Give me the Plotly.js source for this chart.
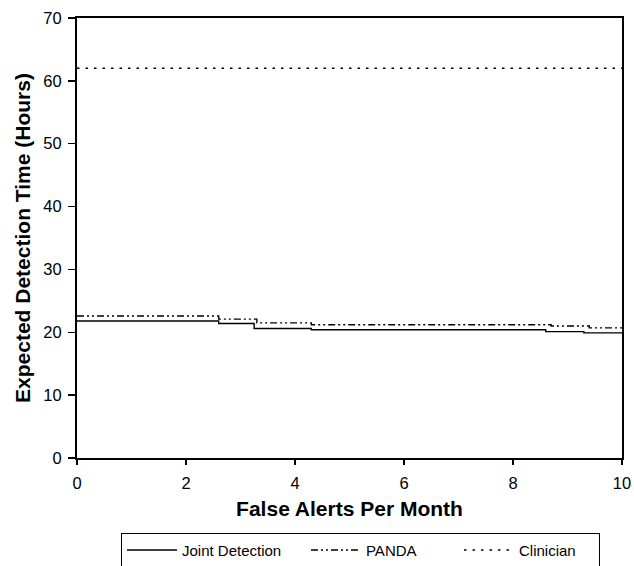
<!DOCTYPE html>
<html>
<head>
<meta charset="utf-8">
<script src="https://cdn.plot.ly/plotly-3.0.1.min.js"></script>
<style>html,body{margin:0;padding:0;background:#fff;}#chart{width:634px;height:566px;}</style>
</head>
<body>
<div id="chart"></div>
<script>
// Step-function series (x = false alerts per month, y = hours)
const seriesNames = ["Joint Detection", "PANDA", "Clinician"];
const jointX = [0, 2.6, 3.25, 4.3, 8.6, 9.3, 10];
const jointY = [21.8, 21.4, 20.6, 20.4, 20.1, 19.9, 19.9];
const pandaX = [0, 2.6, 3.3, 4.3, 8.7, 9.4, 10];
const pandaY = [22.6, 22.1, 21.5, 21.2, 21.0, 20.7, 20.7];
const clinX = [0, 10];
const clinY = [62, 62];
const xTicks = [0, 2, 4, 6, 8, 10];
const yTicks = [0, 10, 20, 30, 40, 50, 60, 70];

const traces = [
  {x: jointX, y: jointY, name: seriesNames[0], mode: "lines", legendwidth: 119,
   line: {shape: "hv", color: "#000", width: 1.4, dash: "solid"}},
  {x: pandaX, y: pandaY, name: seriesNames[1], mode: "lines", legendwidth: 88,
   line: {shape: "hv", color: "#000", width: 1.4, dash: "7px,3px,2px,3px,2px,3px"}},
  {x: clinX, y: clinY, name: seriesNames[2], mode: "lines", legendwidth: 75,
   line: {shape: "hv", color: "#000", width: 1.4, dash: "2.5px,6px"}}
];

const font = {family: "Liberation Sans, Arial, sans-serif", color: "#000"};
const layout = {
  width: 634, height: 566,
  margin: {l: 77, r: 12, t: 18, b: 108, autoexpand: false},
  paper_bgcolor: "#fff", plot_bgcolor: "#fff",
  font: Object.assign({size: 16}, font),
  showlegend: true,
  legend: {
    orientation: "h", x: 0.0807, xanchor: "left", y: -0.17, yanchor: "top",
    bordercolor: "#000", borderwidth: 1, bgcolor: "#fff",
    font: Object.assign({size: 15}, font),
    itemwidth: 50
  },
  xaxis: {
    range: [0, 10], tickvals: xTicks, ticktext: xTicks.map(String),
    showgrid: false, zeroline: false,
    showline: true, linecolor: "#000", linewidth: 2, mirror: true,
    ticks: "outside", ticklen: 5, tickwidth: 1.5, tickcolor: "#000",
    ticklabelstandoff: 4,
    tickfont: Object.assign({size: 16.5}, font),
    title: {text: "False Alerts Per Month", font: Object.assign({size: 21, weight: "bold"}, font), standoff: 11}
  },
  yaxis: {
    range: [0, 70], tickvals: yTicks, ticktext: yTicks.map(String),
    showgrid: false, zeroline: false,
    showline: true, linecolor: "#000", linewidth: 2, mirror: true,
    ticks: "outside", ticklen: 7, tickwidth: 1.5, tickcolor: "#000",
    ticklabelstandoff: 3,
    tickfont: Object.assign({size: 16.5}, font),
    title: {text: "Expected Detection Time (Hours)", font: Object.assign({size: 21, weight: "bold"}, font), standoff: 7}
  }
};

Plotly.newPlot("chart", traces, layout, {displayModeBar: false, staticPlot: true});
</script>
</body>
</html>
